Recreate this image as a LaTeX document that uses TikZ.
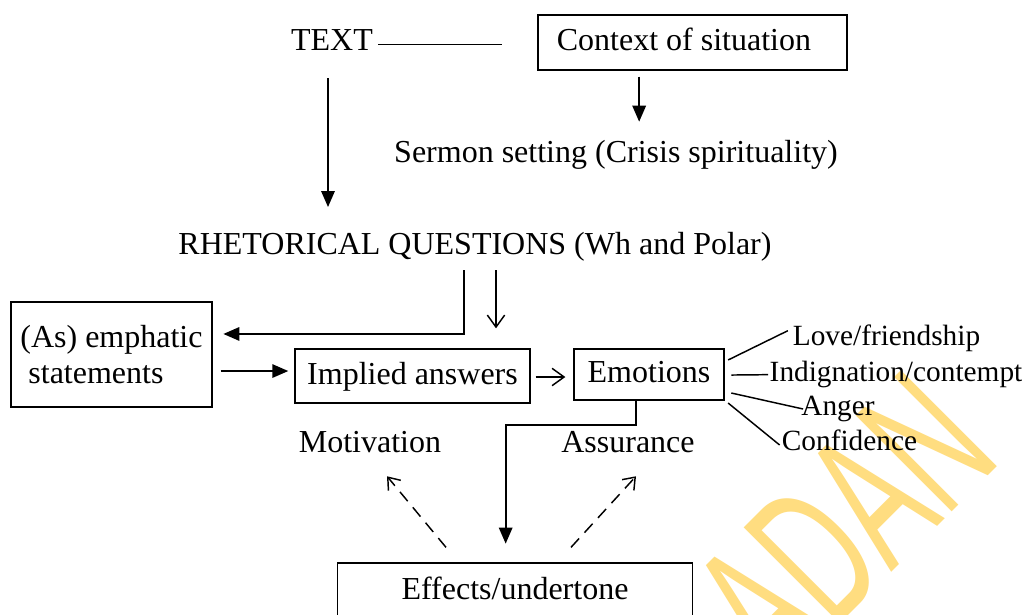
\documentclass[tikz,border=0pt]{standalone}
\usepackage{fontspec}
\setmainfont{Liberation Serif}
\newfontfamily\wmfont{Liberation Sans}
\usetikzlibrary{arrows.meta}
\definecolor{wm}{RGB}{255,221,128}
\tikzset{
  txt/.style={inner sep=0pt, text height=18pt, text depth=6pt},
  lbl/.style={inner sep=0pt, font=\fontsize{22pt}{24pt}\selectfont, text height=16.5pt, text depth=5.5pt},
  box/.style={draw, line width=1pt, inner sep=0pt, text height=18pt, text depth=6pt},
  farrow/.style={line width=1.5pt, -{Triangle[length=12pt,width=10pt]}},
  oarrow/.style={line width=1.1pt, -{Straight Barb[length=9pt,width=13pt]}},
  darrow/.style={line width=1.1pt, dash pattern=on 9pt off 6pt, -{Straight Barb[length=8pt,width=12pt]}},
  thin/.style={line width=1.1pt},
}
\begin{document}
\begin{tikzpicture}[x=0.75pt, y=-0.75pt, font=\fontsize{24pt}{27pt}\selectfont]
\clip (0,0) rectangle (1028,614);
\fill[white] (0,0) rectangle (1028,614);
% watermark
\node[rotate=45, anchor=base, text=wm, inner sep=0pt, font=\wmfont\fontsize{148pt}{150pt}\selectfont] (wmark) at (892,572) {\scalebox{0.58}[1]{ADAN}};

% nodes
\node[txt] (text) at (332,42) {TEXT};
\coordinate (tline) at (502,45);
\node[box, minimum width=231.75pt, minimum height=41.25pt] (ctx) at (692.5,42.5) {Context of situation\hspace*{12.75pt}};
\node[txt] (sermon) at (616,154) {Sermon setting (Crisis spirituality)};
\node[txt] (rq) at (475,246) {RHETORICAL QUESTIONS (Wh and Polar)};
\node[draw, line width=1pt, inner sep=0pt, align=left, minimum width=150.75pt, minimum height=78.75pt] (as) at (111.5,354.5) {(As) emphatic\\\hspace*{6pt}statements};
\node[box, minimum width=176.25pt, minimum height=40.5pt] (impl) at (412.5,376) {Implied answers};
\node[box, minimum width=112.5pt, minimum height=38.25pt] (emo) at (649,374.5) {Emotions};
\node[lbl] (love) at (886.5,338) {Love/friendship};
\node[lbl] (indig) at (896,374) {Indignation/contempt};
\node[lbl] (anger) at (838,408) {Anger};
\node[lbl] (conf) at (849.5,443) {Confidence};
\node[txt] (mot) at (370,444) {Motivation};
\node[txt] (assur) at (628,444) {Assurance};
\node[box, minimum width=266.6pt, minimum height=42pt] (eff) at (515,591) {Effects/undertone};

% connectors
\draw[thin] ([xshift=4pt,yshift=-2pt]text.east) -- ([yshift=-2pt]text.east -| tline);
\draw[farrow, shorten <=15pt, shorten >=17pt] ([xshift=-3pt]text.south) -- ([xshift=-3pt]text.south |- rq.north);
\draw[farrow, shorten <=4.5pt, shorten >=12pt] ([xshift=-40pt]ctx.south) -- ([xshift=-40pt]ctx.south |- sermon.north);
\draw[farrow] ([xshift=-8.6pt,yshift=-6pt]rq.south) |- ([xshift=8pt,yshift=15.4pt]as.east);
\draw[oarrow, shorten <=6pt, shorten >=15pt] ([xshift=15.75pt]rq.south) -- ([xshift=15.75pt]rq.south |- impl.north);
\draw[farrow, shorten <=6pt, shorten >=4.5pt] ([yshift=-12.4pt]as.east) -- ([yshift=-12.4pt]as.east -| impl.west);
\draw[oarrow, shorten <=3.75pt, shorten >=6pt] ([yshift=-0.75pt]impl.east) -- ([yshift=-0.75pt]impl.east -| emo.west);
\draw[farrow] ([xshift=-9.75pt]emo.south) -- ++(0,24) -| ([xshift=-7pt,yshift=14pt]eff.north);
\draw[darrow] ([xshift=-51.75pt,yshift=11.25pt]eff.north) -- ([xshift=12.75pt,yshift=-12pt]mot.south);
\draw[darrow] ([xshift=42pt,yshift=11.25pt]eff.north) -- ([xshift=6pt,yshift=-12pt]assur.south);
\draw[thin] ([xshift=2.6pt,yshift=10.9pt]emo.east) -- ([xshift=-3.5pt,yshift=5.5pt]love.west);
\draw[thin] ([xshift=5pt,yshift=-0.4pt]emo.east) -- ([xshift=-1pt,yshift=-0.5pt]indig.west);
\draw[thin] ([xshift=5pt,yshift=-13.9pt]emo.east) -- ([xshift=1.5pt,yshift=-0.75pt]anger.west);
\draw[thin] ([xshift=2.6pt,yshift=-21.4pt]emo.east) -- ([xshift=-1.5pt,yshift=-1.5pt]conf.west);
\end{tikzpicture}
\end{document}
